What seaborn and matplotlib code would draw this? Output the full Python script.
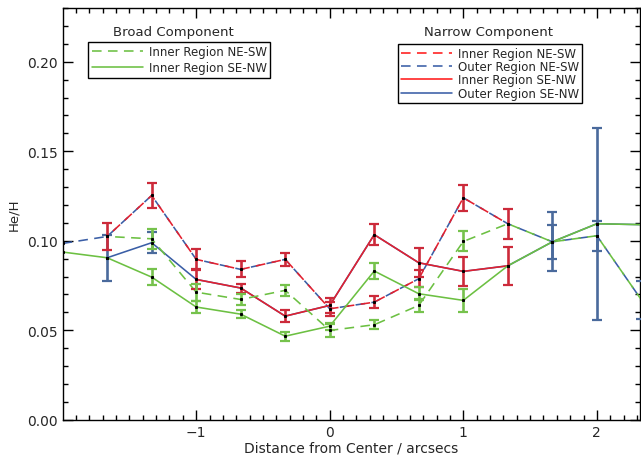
import numpy as np
import pandas as pd
import matplotlib
matplotlib.use("Agg")
import matplotlib.pyplot as plt
from matplotlib.lines import Line2D
from matplotlib.ticker import MultipleLocator
import seaborn as sns

# ---------------- data ----------------
x_pos = [-2.0, -5/3, -4/3, -1.0, -2/3, -1/3, 0.0, 1/3, 2/3, 1.0, 4/3, 5/3, 2.0, 7/3]

# Narrow component, NE-SW (dashed): blue for whole cut, red for the inner region
narrow_nesw = [0.0985, 0.1024, 0.1253, 0.0896, 0.0840, 0.0896, 0.0620, 0.0657, 0.0788, 0.1240, 0.1095, 0.0994, 0.1028, 0.0670]
narrow_nesw_err = [np.nan, 0.0077, 0.0070, 0.0058, 0.0045, 0.0035, 0.0040, 0.0033, 0.0049, 0.0072, 0.0083, 0.0095, 0.0085, 0.0105]
narrow_nesw_inner = [False, True, True, True, True, True, True, True, True, True, True, False, False, False]

# Narrow component, SE-NW (solid)
narrow_senw = [np.nan, 0.0905, 0.0989, 0.0784, 0.0736, 0.0579, 0.0639, 0.1034, 0.0877, 0.0829, 0.0860, 0.0994, 0.1095, 0.1090]
narrow_senw_err = [np.nan, 0.0127, 0.0058, 0.0056, 0.0025, 0.0035, 0.0040, 0.0058, 0.0080, 0.0081, 0.0105, 0.0165, 0.0535, np.nan]
narrow_senw_inner = [False, False, False, True, True, True, True, True, True, True, True, False, False, False]

# Broad component (green)
broad_nesw = [np.nan, 0.1024, 0.1011, 0.0713, 0.0672, 0.0723, 0.0499, 0.0531, 0.0639, 0.0996, 0.1095, 0.0994, 0.1028, 0.0670]
broad_nesw_err = [np.nan, np.nan, 0.0056, 0.0047, 0.0033, 0.0030, 0.0035, 0.0024, 0.0037, 0.0056, np.nan, np.nan, np.nan, np.nan]
broad_senw = [0.0937, 0.0905, 0.0797, 0.0630, 0.0590, 0.0467, 0.0523, 0.0831, 0.0704, 0.0667, 0.0860, 0.0994, 0.1095, 0.1090]
broad_senw_err = [np.nan, np.nan, 0.0045, 0.0035, 0.0023, 0.0025, 0.0020, 0.0043, 0.0035, 0.0065, np.nan, np.nan, np.nan, np.nan]

x_ticks = [-1, 0, 1, 2]
y_ticks = [0.00, 0.05, 0.10, 0.15, 0.20]
x_label = "Distance from Center / arcsecs"
y_label = "He/H"
broad_title = "Broad Component"
narrow_title = "Narrow Component"
broad_labels = ["Inner Region NE-SW", "Inner Region SE-NW"]
narrow_labels = ["Inner Region NE-SW", "Outer Region NE-SW", "Inner Region SE-NW", "Outer Region SE-NW"]

# ---------------- style ----------------
sns.set_theme(style="white")
plt.rcParams["font.family"] = ["DejaVu Sans"]
plt.rcParams["axes.linewidth"] = 1.0

RED = "#e3202f"
RED_BAR = "#cc2a3a"
BLUE = "#3a5ea6"
BLUE_BAR = "#4a6a9c"
GREEN = "#6cc042"
GREEN_BAR = "#76c24c"

LW = 1.15
DASH = (6, 4)

fig = plt.figure(figsize=(6.41, 4.60), dpi=100)
ax = fig.add_axes([63.3 / 641, 1 - 420.8 / 460, (639.6 - 63.3) / 641, (420.8 - 9) / 460])

df = pd.DataFrame({"x": x_pos,
                   "nn": narrow_nesw, "nn_e": narrow_nesw_err, "nn_in": narrow_nesw_inner,
                   "ns": narrow_senw, "ns_e": narrow_senw_err, "ns_in": narrow_senw_inner,
                   "bn": broad_nesw, "bn_e": broad_nesw_err,
                   "bs": broad_senw, "bs_e": broad_senw_err})


def line(d, col, color, dashed, offset=0.0, z=2):
    d = d.dropna(subset=[col])
    sns.lineplot(data=d, x="x", y=col, ax=ax, color=color, linewidth=LW,
                 estimator=None, sort=False, legend=False, zorder=z)
    ln = ax.lines[-1]
    if dashed:
        ln.set_linestyle((offset, DASH))
    ln.set_solid_capstyle("butt")
    ln.set_dash_capstyle("butt")


def bars(d, col, ecol, color, z=3):
    d = d.dropna(subset=[col, ecol])
    if len(d):
        ax.errorbar(d["x"], d[col], yerr=d[ecol], fmt="none", ecolor=color,
                    elinewidth=1.9, capsize=3.6, capthick=1.6, zorder=z)


def inner_span(mask):
    idx = [i for i, m in enumerate(mask) if m]
    return df.iloc[idx[0]:idx[-1] + 1]

# blue (full cuts)
line(df, "ns", BLUE, False, z=2)
line(df, "nn", BLUE, True, z=2)
# red (inner region)
line(inner_span(narrow_senw_inner), "ns", RED, False, z=2.5)
line(inner_span(narrow_nesw_inner), "nn", RED, True, offset=5, z=2.5)
# green broad
line(df, "bs", GREEN, False, z=2.6)
line(df, "bn", GREEN, True, offset=5, z=2.6)

# error bars
bars(df[~df["ns_in"]], "ns", "ns_e", BLUE_BAR)
bars(df[df["ns_in"]], "ns", "ns_e", RED_BAR)
bars(df[~df["nn_in"]], "nn", "nn_e", BLUE_BAR)
bars(df[df["nn_in"]], "nn", "nn_e", RED_BAR)
bars(df, "bs", "bs_e", GREEN_BAR)
bars(df, "bn", "bn_e", GREEN_BAR)

# tiny black dots at data points
for c in ["nn", "ns", "bn", "bs"]:
    d = df.dropna(subset=[c])
    ax.plot(d["x"], d[c], linestyle="none", marker="s", markersize=1.2,
            color="black", zorder=4)

ax.set_xlim(-1.995, 2.32)
ax.set_ylim(0.0, 0.23)
ax.set_xticks(x_ticks)
ax.set_xticklabels(["\u22121", "0", "1", "2"])
ax.set_yticks(y_ticks)
ax.set_yticklabels([f"{v:.2f}" for v in y_ticks])
ax.xaxis.set_minor_locator(MultipleLocator(0.1))
ax.yaxis.set_minor_locator(MultipleLocator(0.01))
ax.tick_params(which="both", direction="in", top=True, right=True,
               bottom=True, left=True, color="black", labelsize=10)
ax.tick_params(axis="x", pad=4)
ax.tick_params(axis="y", pad=4)
ax.tick_params(which="major", length=7, width=1.0)
ax.tick_params(which="minor", length=3.5, width=1.0)
for s in ax.spines.values():
    s.set_color("black")
    s.set_linewidth(1.0)

ax.set_xlabel(x_label, fontsize=10, labelpad=1)
ax.set_ylabel(y_label, fontsize=9.5, labelpad=5)

# legends
h_broad = [Line2D([], [], color=GREEN, lw=LW, linestyle=(0, DASH)),
           Line2D([], [], color=GREEN, lw=LW)]
leg1 = ax.legend(h_broad, broad_labels, loc="upper left",
                 bbox_to_anchor=(0.0434, 0.918), borderaxespad=0, fontsize=8.5,
                 frameon=True, fancybox=False, edgecolor="black", framealpha=1,
                 handlelength=4.3, handletextpad=0.5, labelspacing=0.25,
                 borderpad=0.3)
leg1.get_frame().set_linewidth(1.0)
ax.add_artist(leg1)

h_narrow = [Line2D([], [], color="#ff1a1a", lw=LW, linestyle=(0, DASH)),
            Line2D([], [], color=BLUE, lw=LW, linestyle=(0, DASH)),
            Line2D([], [], color="#ff1a1a", lw=LW),
            Line2D([], [], color=BLUE, lw=LW)]
leg2 = ax.legend(h_narrow, narrow_labels, loc="upper left",
                 bbox_to_anchor=(0.581, 0.9126), borderaxespad=0, fontsize=8.5,
                 frameon=True, fancybox=False, edgecolor="black", framealpha=1,
                 handlelength=4.3, handletextpad=0.5, labelspacing=0.02,
                 borderpad=0.25)
leg2.get_frame().set_linewidth(1.0)

ax.text(0.191, 0.9425, broad_title, transform=ax.transAxes, ha="center",
        va="center", fontsize=9.5)
ax.text(0.737, 0.9425, narrow_title, transform=ax.transAxes, ha="center",
        va="center", fontsize=9.5)

fig.savefig("out.png", dpi=100)
